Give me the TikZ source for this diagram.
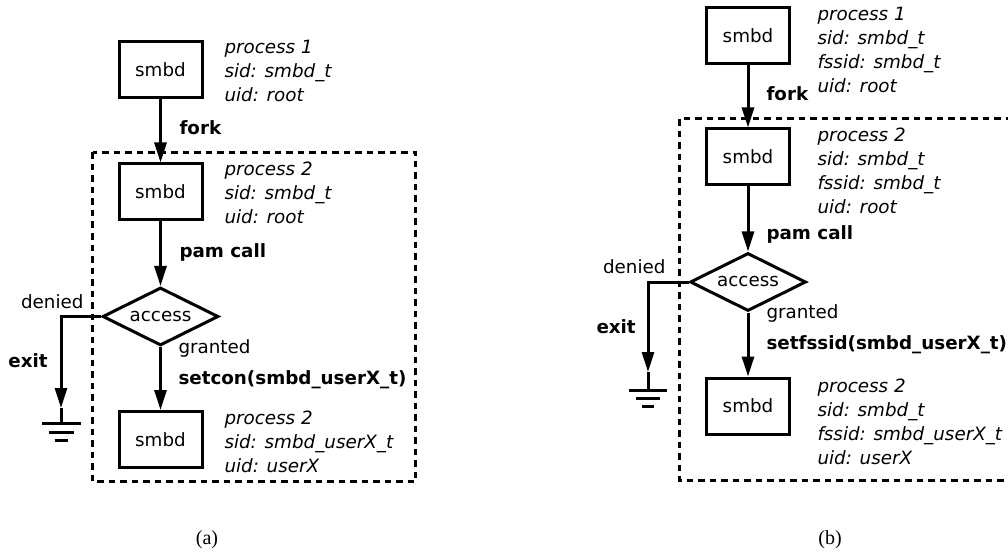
\documentclass[tikz,border=0pt]{standalone}
\usepackage{fontspec}
\setmainfont{DejaVu Sans}
\newfontfamily\capfont{Liberation Serif}
\usetikzlibrary{arrows.meta,shapes.geometric}

\begin{document}
\begin{tikzpicture}[x=1pt,y=-1pt,line width=3pt,
  font=\fontsize{18.3}{24}\selectfont,
  procbox/.style={draw,rectangle,minimum width=83pt,minimum height=56pt,inner sep=0pt},
  decision/.style={draw,diamond,aspect=2,minimum width=116pt,minimum height=58pt,inner sep=0pt},
  flow/.style={-{Triangle[length=20pt,width=12pt]}},
  info/.style={anchor=base west,inner sep=0pt,font=\fontsize{18.3}{24}\selectfont\itshape},
  note/.style={inner sep=0pt},
  act/.style={anchor=base west,inner sep=0pt,font=\fontsize{18.3}{24}\selectfont\bfseries},
  frame/.style={dash pattern=on 6.5pt off 5pt},
  caption/.style={inner sep=0pt,font=\capfont\fontsize{20}{24}\selectfont}]

\clip (0,0) rectangle (1008,553);

% ---------------- (a) setcon ----------------
\draw[frame] (92.5,152.5) rectangle (415.5,481.5);

\node[procbox] (a1) at (160.5,70) {smbd};
\node[procbox] (a2) at (160.5,192) {smbd};
\node[decision] (aq) at (160.5,316.5) {access};
\node[procbox] (a3) at (160.5,439.5) {smbd};
\coordinate (ag) at (61,408);

\node[info] (a1i1) at (223,54) {process 1};
\node[info] (a1i2) at (223,78) {sid: smbd\_t};
\node[info] (a1i3) at (223,102) {uid: root};

\node[info] (a2i1) at (223,176) {process 2};
\node[info] (a2i2) at (223,200) {sid: smbd\_t};
\node[info] (a2i3) at (223,224) {uid: root};

\node[info] (a3i1) at (223,424) {process 2};
\node[info] (a3i2) at (223,448) {sid: smbd\_userX\_t};
\node[info] (a3i3) at (223,472) {uid: userX};

\node[act] (afork) at (178,135) {fork};
\node[act] (apam) at (178,258) {pam call};
\node[note,anchor=base east] (adenied) at (85,308) {denied};
\node[act] (aexit) at (7,367) {exit};
\node[note,anchor=base west] (agranted) at (177,353) {granted};
\node[act] (aset) at (177,384) {setcon(smbd\_userX\_t)};

\draw[flow] (a1) -- (a2);
\draw[flow] (a2) -- (aq);
\draw[flow] (aq) -- (a3);
\draw[flow] (aq.west) -| (ag);

% ground symbol
\draw (ag) -- ++(0,15) coordinate (agb);
\draw ([xshift=-19.5pt]agb) -- ([xshift=19.5pt]agb);
\draw ([xshift=-12.5pt,yshift=-9pt]agb) -- ([xshift=12.5pt,yshift=-9pt]agb);
\draw ([xshift=-6.5pt,yshift=-17pt]agb) -- ([xshift=6.5pt,yshift=-17pt]agb);

\node[caption] (capa) at (207,540) {(a)};

% ---------------- (b) setfssid ----------------
\draw[frame] (1012,118.5) -- (679.5,118.5) -- (679.5,480.5) -- (1012,480.5);

\node[procbox] (b1) at (748,35.5) {smbd};
\node[procbox] (b2) at (748,157) {smbd};
\node[decision] (bq) at (748,282) {access};
\node[procbox] (b3) at (748,406) {smbd};
\coordinate (bg) at (648,372);

\node[info] (b1i1) at (816,21) {process 1};
\node[info] (b1i2) at (816,45) {sid: smbd\_t};
\node[info] (b1i3) at (816,69) {fssid: smbd\_t};
\node[info] (b1i4) at (816,93) {uid: root};

\node[info] (b2i1) at (816,142) {process 2};
\node[info] (b2i2) at (816,166) {sid: smbd\_t};
\node[info] (b2i3) at (816,190) {fssid: smbd\_t};
\node[info] (b2i4) at (816,214) {uid: root};

\node[info] (b3i1) at (816,392) {process 2};
\node[info] (b3i2) at (816,416) {sid: smbd\_t};
\node[info] (b3i3) at (816,440) {fssid: smbd\_userX\_t};
\node[info] (b3i4) at (816,464) {uid: userX};

\node[act] (bfork) at (765,101) {fork};
\node[act] (bpam) at (765,240) {pam call};
\node[note,anchor=base east] (bdenied) at (667,273) {denied};
\node[act] (bexit) at (595,333) {exit};
\node[note,anchor=base west] (bgranted) at (765,318) {granted};
\node[act] (bset) at (765,349) {setfssid(smbd\_userX\_t)};

\draw[flow] (b1) -- (b2);
\draw[flow] (b2) -- (bq);
\draw[flow] (bq) -- (b3);
\draw[flow] (bq.west) -| (bg);

% ground symbol
\draw (bg) -- ++(0,18) coordinate (bgb);
\draw ([xshift=-19pt]bgb) -- ([xshift=19pt]bgb);
\draw ([xshift=-12pt,yshift=-8pt]bgb) -- ([xshift=12pt,yshift=-8pt]bgb);
\draw ([xshift=-6pt,yshift=-16pt]bgb) -- ([xshift=6pt,yshift=-16pt]bgb);

\node[caption] (capb) at (830,540) {(b)};
\end{tikzpicture}
\end{document}
